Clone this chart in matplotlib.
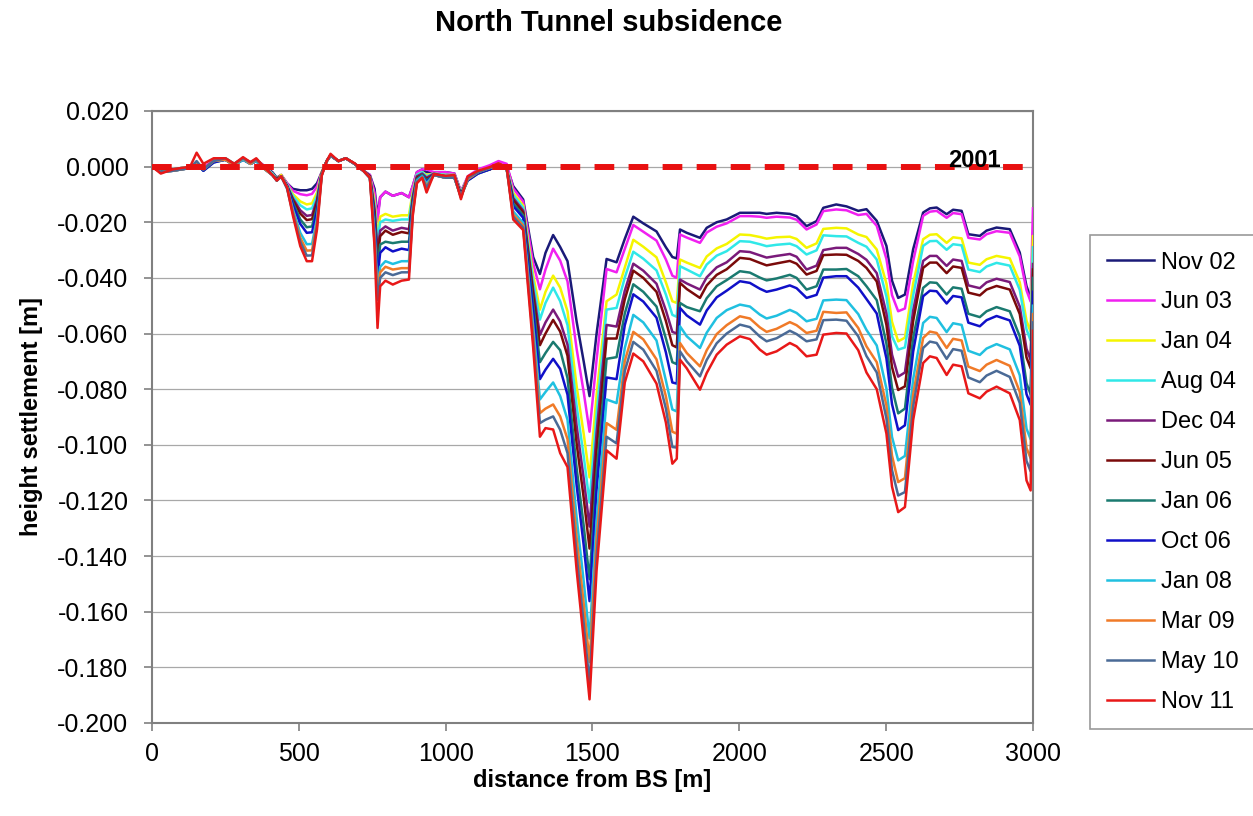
import matplotlib
matplotlib.use('Agg')
import matplotlib.pyplot as plt

plt.rcParams['font.family'] = ['Liberation Sans', 'DejaVu Sans']
plt.rcParams['axes.unicode_minus'] = False

# distance from BS [m]
dist = [0, 30, 70, 130, 152, 175, 210, 250, 280, 310,
        335, 355, 385, 410, 425, 440, 460, 480, 505, 527,
        545, 562, 578, 595, 608, 635, 660, 690, 720, 742,
        758, 768, 777, 795, 820, 850, 875, 888, 902, 920,
        935, 960, 1000, 1030, 1052, 1075, 1110, 1150, 1180, 1208,
        1230, 1264, 1298, 1321, 1340, 1366, 1390, 1415, 1446, 1470,
        1490, 1514, 1548, 1582, 1610, 1639, 1673, 1718, 1750, 1772,
        1787, 1798, 1821, 1866, 1889, 1923, 1957, 2002, 2036, 2070,
        2093, 2127, 2172, 2195, 2229, 2263, 2286, 2330, 2365, 2405,
        2433, 2468, 2501, 2520, 2541, 2564, 2592, 2626, 2649, 2672,
        2706, 2728, 2757, 2780, 2819, 2842, 2876, 2921, 2955, 2978,
        2992, 3000]

nov02 = [0, -0.001, -0.001, 0, 0.001, -0.0005, 0.002, 0.0025, 0.001, 0.003, 0.0015, 0.0025, 0, -0.002, -0.004, -0.003,
         -0.006, -0.008, -0.0085, -0.0085, -0.008, -0.006,
         -0.002, 0.002, 0.004, 0.002, 0.003, 0.001, -0.0015, -0.003,
         -0.008, -0.018, -0.011, -0.009, -0.0105, -0.0095, -0.011, -0.007,
         -0.002, -0.001, -0.002, -0.002, -0.002, -0.0025, -0.009, -0.004, -0.0015, 0, 0.001, 0,
         -0.007, -0.0118, -0.0325, -0.0386, -0.031, -0.0246, -0.0289, -0.034, -0.0557, -0.070,
         -0.0825, -0.060, -0.0332, -0.0344, -0.026, -0.018, -0.0204, -0.0233, -0.029, -0.0325,
         -0.033, -0.0226, -0.0238, -0.0256, -0.022, -0.020, -0.019, -0.0166, -0.0166, -0.0166,
         -0.017, -0.0166, -0.017, -0.0178, -0.0214, -0.0196, -0.0148, -0.0136, -0.0143, -0.0159,
         -0.0153, -0.0195, -0.0285, -0.041, -0.0472, -0.046, -0.0297, -0.0165, -0.015, -0.0147,
         -0.0171, -0.0155, -0.0159, -0.0243, -0.0249, -0.023, -0.0219, -0.0225, -0.0309, -0.043,
         -0.047, -0.040]

jun03 = [0, -0.001, -0.001, 0, 0.001, -0.0005, 0.0025, 0.003, 0.001, 0.003, 0.0015, 0.0025, 0, -0.0025, -0.0045, -0.003,
         -0.006, -0.0087, -0.0099, -0.0103, -0.0098, -0.0072,
         -0.002, 0.002, 0.004, 0.002, 0.003, 0.001, -0.0015, -0.003,
         -0.0095, -0.0197, -0.011, -0.009, -0.0105, -0.0095, -0.011, -0.007,
         -0.002, -0.001, -0.001, -0.002, -0.002, -0.0025, -0.009, -0.0035, -0.001, 0.0005, 0.002, 0.001,
         -0.0078, -0.0126, -0.0348, -0.0441, -0.037, -0.0295, -0.0338, -0.0413, -0.0655, -0.081,
         -0.0953, -0.0694, -0.0368, -0.038, -0.0296, -0.021, -0.0234, -0.0266, -0.0334, -0.0392,
         -0.040, -0.0244, -0.0255, -0.0274, -0.0237, -0.0216, -0.0204, -0.0178, -0.0178, -0.018,
         -0.0184, -0.018, -0.0183, -0.0191, -0.0226, -0.0208, -0.016, -0.0154, -0.0157, -0.0174,
         -0.017, -0.0213, -0.0332, -0.0462, -0.052, -0.051, -0.034, -0.0177, -0.0162, -0.0159,
         -0.0184, -0.0167, -0.0171, -0.0256, -0.0262, -0.0243, -0.0232, -0.0238, -0.0323, -0.0445,
         -0.0485, -0.015]

jan04 = [0, -0.001, -0.001, 0, 0.001, -0.001, 0.002, 0.003, 0.001, 0.003, 0.0015, 0.0025, -0.0005, -0.0025, -0.0045, -0.003,
         -0.0065, -0.0099, -0.0125, -0.0136, -0.0132, -0.0093,
         -0.002, 0.002, 0.004, 0.002, 0.003, 0.001, -0.0015, -0.0035,
         -0.0122, -0.025, -0.018, -0.017, -0.018, -0.0175, -0.0175, -0.009,
         -0.003, -0.002, -0.003, -0.0025, -0.003, -0.003, -0.0095, -0.004, -0.0015, -0.0005, 0.001, -0.0005,
         -0.0094, -0.014, -0.039, -0.0514, -0.045, -0.0392, -0.0435, -0.052, -0.0789, -0.096,
         -0.1117, -0.0821, -0.0484, -0.046, -0.0363, -0.0263, -0.0288, -0.0326, -0.0416, -0.0484,
         -0.049, -0.0334, -0.0345, -0.0364, -0.0323, -0.0294, -0.0278, -0.0244, -0.0246, -0.0253,
         -0.0259, -0.0254, -0.0252, -0.026, -0.0292, -0.0276, -0.0224, -0.022, -0.0222, -0.0244,
         -0.0253, -0.0298, -0.042, -0.0558, -0.0628, -0.0615, -0.042, -0.0261, -0.0245, -0.0243,
         -0.0274, -0.0254, -0.0258, -0.0345, -0.0353, -0.0333, -0.0321, -0.033, -0.0416, -0.0554,
         -0.0594, -0.025]

aug04 = [0, -0.0015, -0.001, 0, 0.001, -0.001, 0.002, 0.003, 0.001, 0.003, 0.0015, 0.0025, -0.0005, -0.0025, -0.0045, -0.0035,
         -0.0065, -0.0106, -0.0139, -0.0154, -0.015, -0.0105,
         -0.0025, 0.002, 0.004, 0.002, 0.003, 0.001, -0.0015, -0.0035,
         -0.0137, -0.027, -0.020, -0.019, -0.0195, -0.019, -0.019, -0.010,
         -0.003, -0.002, -0.0035, -0.0025, -0.003, -0.003, -0.0095, -0.004, -0.0015, -0.0005, 0.001, -0.0005,
         -0.0102, -0.0148, -0.0413, -0.055, -0.049, -0.0435, -0.0484, -0.057, -0.086, -0.104,
         -0.1208, -0.0889, -0.0514, -0.0508, -0.0399, -0.0306, -0.0331, -0.0373, -0.046, -0.0533,
         -0.054, -0.0358, -0.037, -0.0394, -0.0352, -0.032, -0.0304, -0.0268, -0.027, -0.0279,
         -0.0286, -0.0281, -0.0277, -0.0286, -0.0316, -0.0301, -0.0247, -0.025, -0.0251, -0.0274,
         -0.0288, -0.0334, -0.0467, -0.061, -0.0658, -0.065, -0.0463, -0.0285, -0.0268, -0.0267,
         -0.0299, -0.0279, -0.0283, -0.037, -0.0379, -0.0359, -0.0346, -0.0356, -0.0443, -0.0585,
         -0.0625, -0.029]

dec04 = [0, -0.0015, -0.001, -0.0005, 0.001, -0.001, 0.002, 0.0025, 0.0005, 0.003, 0.001, 0.002, -0.0005, -0.003, -0.0045, -0.0035,
         -0.007, -0.0115, -0.0157, -0.0177, -0.0174, -0.0119,
         -0.0025, 0.002, 0.004, 0.002, 0.003, 0.001, -0.0015, -0.0035,
         -0.0156, -0.031, -0.023, -0.0215, -0.023, -0.022, -0.0225, -0.011,
         -0.0035, -0.0025, -0.004, -0.0025, -0.0035, -0.0035, -0.010, -0.0045, -0.002, -0.001, 0.0005, -0.001,
         -0.0113, -0.0158, -0.0442, -0.0605, -0.056, -0.0514, -0.0557, -0.064, -0.0932, -0.112,
         -0.1294, -0.0957, -0.0569, -0.0575, -0.0446, -0.0349, -0.0374, -0.0421, -0.0517, -0.0594,
         -0.060, -0.0406, -0.042, -0.0442, -0.0398, -0.0362, -0.0344, -0.0304, -0.0307, -0.0319,
         -0.0327, -0.0321, -0.0314, -0.0324, -0.037, -0.0356, -0.030, -0.0292, -0.0292, -0.0314,
         -0.0335, -0.0383, -0.0528, -0.0676, -0.0755, -0.074, -0.0518, -0.0339, -0.0321, -0.0321,
         -0.0357, -0.0334, -0.0339, -0.0427, -0.0437, -0.0416, -0.0403, -0.0415, -0.0503, -0.0655,
         -0.0695, -0.035]

jun05 = [0, -0.0015, -0.001, -0.0005, 0.001, -0.001, 0.002, 0.0025, 0.0005, 0.003, 0.001, 0.002, -0.0005, -0.003, -0.0045, -0.0035,
         -0.007, -0.0121, -0.0169, -0.0192, -0.0189, -0.0129,
         -0.0025, 0.002, 0.004, 0.002, 0.003, 0.001, -0.0015, -0.0035,
         -0.0168, -0.033, -0.025, -0.023, -0.0245, -0.0235, -0.024, -0.012,
         -0.004, -0.003, -0.0045, -0.003, -0.0035, -0.0035, -0.010, -0.0045, -0.002, -0.001, 0.0005, -0.001,
         -0.012, -0.0164, -0.0462, -0.0642, -0.060, -0.0551, -0.0593, -0.068, -0.0995, -0.119,
         -0.1373, -0.1017, -0.0618, -0.0618, -0.0477, -0.0374, -0.040, -0.045, -0.0555, -0.0642,
         -0.065, -0.0418, -0.044, -0.0472, -0.0427, -0.0389, -0.0369, -0.0328, -0.0332, -0.0346,
         -0.0355, -0.0348, -0.0339, -0.0349, -0.0388, -0.0375, -0.0318, -0.0316, -0.0317, -0.0339,
         -0.0364, -0.0413, -0.0569, -0.0721, -0.0803, -0.079, -0.0555, -0.0364, -0.0345, -0.0345,
         -0.0383, -0.0359, -0.0364, -0.0453, -0.0463, -0.0442, -0.0429, -0.0442, -0.053, -0.0686,
         -0.0725, -0.037]

jan06 = [0, -0.0015, -0.0015, -0.0005, 0.001, -0.0015, 0.0015, 0.0025, 0.0005, 0.0025, 0.001, 0.002, -0.001, -0.003, -0.005, -0.0035,
         -0.007, -0.013, -0.019, -0.0218, -0.0215, -0.0146,
         -0.0025, 0.002, 0.004, 0.002, 0.003, 0.001, -0.0015, -0.004,
         -0.0189, -0.037, -0.028, -0.027, -0.0275, -0.027, -0.027, -0.013,
         -0.0045, -0.003, -0.005, -0.003, -0.004, -0.004, -0.0105, -0.005, -0.0025, -0.001, 0.0005, -0.001,
         -0.0132, -0.0175, -0.0494, -0.0703, -0.067, -0.063, -0.066, -0.076, -0.1084, -0.129,
         -0.1483, -0.1102, -0.0691, -0.0685, -0.0528, -0.0423, -0.045, -0.0503, -0.0618, -0.0703,
         -0.071, -0.049, -0.0505, -0.052, -0.0473, -0.043, -0.0408, -0.0376, -0.0381, -0.0399,
         -0.0409, -0.0402, -0.0389, -0.040, -0.0442, -0.043, -0.037, -0.037, -0.0368, -0.0394,
         -0.043, -0.048, -0.0636, -0.0795, -0.0887, -0.087, -0.0616, -0.0436, -0.0416, -0.0418,
         -0.046, -0.0434, -0.0439, -0.0529, -0.0541, -0.052, -0.0505, -0.052, -0.061, -0.0779,
         -0.0818, -0.040]

oct06 = [0, -0.002, -0.0015, -0.0005, 0.001, -0.0015, 0.0015, 0.0025, 0.0005, 0.0025, 0.001, 0.002, -0.001, -0.003, -0.005, -0.0035,
         -0.007, -0.0138, -0.0206, -0.0238, -0.0236, -0.0159,
         -0.003, 0.002, 0.004, 0.002, 0.003, 0.001, -0.0015, -0.004,
         -0.0206, -0.040, -0.031, -0.029, -0.0305, -0.0295, -0.030, -0.014,
         -0.005, -0.0035, -0.0055, -0.003, -0.004, -0.004, -0.0105, -0.005, -0.0025, -0.001, 0.0005, -0.001,
         -0.0142, -0.0184, -0.052, -0.0764, -0.073, -0.0691, -0.0727, -0.082, -0.1146, -0.136,
         -0.1562, -0.1161, -0.0758, -0.0764, -0.057, -0.0459, -0.0485, -0.0543, -0.0668, -0.0776,
         -0.078, -0.0508, -0.0535, -0.0568, -0.0517, -0.047, -0.0446, -0.0412, -0.0418, -0.0439,
         -0.045, -0.0442, -0.0427, -0.0437, -0.0472, -0.0461, -0.0399, -0.0394, -0.0394, -0.0435,
         -0.0476, -0.0528, -0.069, -0.0854, -0.0947, -0.093, -0.0665, -0.0466, -0.0446, -0.0448,
         -0.0492, -0.0465, -0.047, -0.0561, -0.0574, -0.0552, -0.0537, -0.0553, -0.0644, -0.0818,
         -0.0856, -0.045]

jan08 = [0, -0.002, -0.0015, -0.0005, 0.0015, -0.001, 0.002, 0.0025, 0.0005, 0.0025, 0.001, 0.002, -0.001, -0.003, -0.005, -0.0035,
         -0.0075, -0.0154, -0.0238, -0.0279, -0.0278, -0.0185,
         -0.003, 0.002, 0.004, 0.002, 0.003, 0.001, -0.0015, -0.004,
         -0.024, -0.044, -0.036, -0.034, -0.035, -0.034, -0.034, -0.015,
         -0.005, -0.0035, -0.006, -0.003, -0.004, -0.004, -0.011, -0.0045, -0.002, -0.0005, 0.0005, -0.001,
         -0.0161, -0.0202, -0.0572, -0.0837, -0.081, -0.0776, -0.0825, -0.091, -0.1262, -0.149,
         -0.1696, -0.1272, -0.0837, -0.085, -0.0652, -0.0533, -0.056, -0.0625, -0.0769, -0.0873,
         -0.088, -0.0574, -0.061, -0.0652, -0.0597, -0.0544, -0.0516, -0.0496, -0.0503, -0.0532,
         -0.0546, -0.0536, -0.0515, -0.0526, -0.0556, -0.0547, -0.0481, -0.0478, -0.048, -0.053,
         -0.0587, -0.0643, -0.0798, -0.0972, -0.1056, -0.104, -0.0764, -0.0562, -0.054, -0.0544,
         -0.0595, -0.0563, -0.0569, -0.0662, -0.0677, -0.0654, -0.0638, -0.0657, -0.075, -0.0942,
         -0.098, -0.050]

mar09 = [0, -0.002, -0.0015, -0.0005, 0.0015, -0.001, 0.002, 0.0025, 0.0005, 0.003, 0.001, 0.0025, -0.001, -0.003, -0.005, -0.0035,
         -0.0075, -0.0162, -0.0256, -0.0302, -0.0301, -0.020,
         -0.003, 0.002, 0.004, 0.002, 0.003, 0.001, -0.0015, -0.004,
         -0.0259, -0.046, -0.038, -0.036, -0.037, -0.0365, -0.0365, -0.016,
         -0.0055, -0.004, -0.007, -0.003, -0.004, -0.004, -0.011, -0.0045, -0.002, -0.0005, 0.0005, -0.001,
         -0.0172, -0.0212, -0.0601, -0.0886, -0.087, -0.0855, -0.0898, -0.098, -0.1334, -0.157,
         -0.1781, -0.134, -0.0922, -0.0946, -0.0699, -0.0594, -0.0621, -0.0693, -0.0826, -0.0953,
         -0.096, -0.0634, -0.067, -0.0718, -0.066, -0.0602, -0.057, -0.0538, -0.0546, -0.0578,
         -0.0594, -0.0583, -0.0559, -0.057, -0.0598, -0.059, -0.0522, -0.0526, -0.0524, -0.058,
         -0.0646, -0.0703, -0.0859, -0.1039, -0.1134, -0.112, -0.0819, -0.0616, -0.0593, -0.0598,
         -0.0652, -0.0619, -0.0625, -0.0719, -0.0735, -0.0712, -0.0695, -0.0716, -0.081, -0.1012,
         -0.1048, -0.053]

may10 = [0, -0.002, -0.0015, -0.0005, 0.002, -0.001, 0.002, 0.003, 0.001, 0.003, 0.0015, 0.0025, -0.0005, -0.003, -0.005, -0.0035,
         -0.008, -0.0169, -0.027, -0.032, -0.0319, -0.0212,
         -0.003, 0.002, 0.004, 0.002, 0.003, 0.001, -0.0015, -0.004,
         -0.0273, -0.048, -0.040, -0.038, -0.039, -0.038, -0.038, -0.017,
         -0.0055, -0.004, -0.0075, -0.003, -0.004, -0.004, -0.011, -0.004, -0.002, -0.0005, 0.001, -0.0005,
         -0.018, -0.022, -0.0624, -0.0922, -0.091, -0.0898, -0.0946, -0.103, -0.1396, -0.164,
         -0.186, -0.1399, -0.0971, -0.0995, -0.0735, -0.063, -0.0658, -0.0734, -0.087, -0.1008,
         -0.101, -0.0664, -0.070, -0.0754, -0.0695, -0.0635, -0.060, -0.0568, -0.0577, -0.0611,
         -0.0628, -0.0617, -0.059, -0.0602, -0.0628, -0.0621, -0.0552, -0.055, -0.0554, -0.061,
         -0.0681, -0.074, -0.0906, -0.1091, -0.1182, -0.117, -0.0862, -0.0652, -0.0629, -0.0634,
         -0.0691, -0.0656, -0.0662, -0.0758, -0.0775, -0.0751, -0.0734, -0.0756, -0.085, -0.1058,
         -0.1095, -0.056]

nov11 = [0, -0.0025, -0.001, 0, 0.005, 0.001, 0.003, 0.003, 0.001, 0.0034, 0.0016, 0.003, -0.0005, -0.003, -0.005, -0.0035,
         -0.0075, -0.0177, -0.0286, -0.034, -0.034, -0.0225,
         -0.0033, 0.002, 0.0046, 0.002, 0.003, 0.0012, -0.0015, -0.004,
         -0.029, -0.058, -0.043, -0.041, -0.0424, -0.041, -0.0406, -0.0177,
         -0.006, -0.004, -0.0093, -0.0027, -0.0033, -0.003, -0.0117, -0.0035, -0.0015, -0.0002, 0.0012, -0.0002,
         -0.019, -0.0228, -0.065, -0.0971, -0.094, -0.0945, -0.103, -0.108, -0.145, -0.170,
         -0.1915, -0.145, -0.102, -0.105, -0.0776, -0.0672, -0.070, -0.078, -0.092, -0.1068,
         -0.105, -0.0694, -0.0725, -0.0802, -0.0742, -0.0676, -0.064, -0.061, -0.062, -0.0658,
         -0.0676, -0.0664, -0.0634, -0.0646, -0.0682, -0.0676, -0.0604, -0.0598, -0.060, -0.066,
         -0.074, -0.080, -0.096, -0.115, -0.1242, -0.1224, -0.0911, -0.0706, -0.0682, -0.0688,
         -0.0749, -0.0712, -0.0718, -0.0815, -0.0833, -0.0809, -0.0791, -0.0815, -0.0911, -0.1128,
         -0.1164, -0.059]

labels = ['Nov 02', 'Jun 03', 'Jan 04', 'Aug 04', 'Dec 04', 'Jun 05',
          'Jan 06', 'Oct 06', 'Jan 08', 'Mar 09', 'May 10', 'Nov 11']
series = [nov02, jun03, jan04, aug04, dec04, jun05,
          jan06, oct06, jan08, mar09, may10, nov11]
colors = ['#1a1a78', '#f020f0', '#f5f500', '#30e8e8', '#7a1a7a', '#7a0a0a',
          '#1a7a70', '#1010c8', '#20c0e0', '#f07a28', '#4a6a96', '#e81818']

baseline = [0.0, 0.0]  # 2001 reference survey
baseline_x = [0, 3000]

fig = plt.figure(figsize=(12.53, 8.16), dpi=100)
ax = fig.add_axes([0.1213, 0.114, 0.7031, 0.750])

ax.plot(baseline_x, baseline, color='#e81010', linewidth=4.3,
        linestyle=(0, (3.3, 2.4)), zorder=5)
ax.text(2800, -0.0003, '2001', fontsize=17, fontweight='bold', ha='center', va='baseline', zorder=6)

for ys, lab, col in zip(series, labels, colors):
    ax.plot(dist, ys, color=col, linewidth=1.8, label=lab, zorder=3)

ax.set_xlim(0, 3000)
ax.set_ylim(-0.2, 0.02)
ax.set_xticks(range(0, 3001, 500))
ax.set_yticks([0.02 - 0.02 * i for i in range(12)])
ax.yaxis.set_major_formatter(matplotlib.ticker.FormatStrFormatter('%.3f'))
ax.grid(axis='y', color='#a8a8a8', linewidth=0.9)
ax.set_axisbelow(True)
for s in ax.spines.values():
    s.set_color('#808080')
    s.set_linewidth(1.5)
ax.tick_params(axis='both', labelsize=18, color='#808080', length=6, width=1.2)
ax.tick_params(axis='y', pad=11)
ax.tick_params(axis='x', pad=8)

ax.set_xlabel('distance from BS [m]', fontsize=17, fontweight='bold', labelpad=2)
ax.set_ylabel('height settlement [m]', fontsize=17, fontweight='bold', labelpad=10)
fig.text(0.486, 0.972, 'North Tunnel subsidence', fontsize=21, fontweight='bold',
         ha='center', va='center')

leg = fig.legend(loc='upper left', bbox_to_anchor=(0.870, 0.712), fontsize=17,
                 frameon=True, fancybox=False, edgecolor='#808080', handlelength=2.0,
                 handletextpad=0.3, labelspacing=0.76, borderpad=0.7, borderaxespad=0)
leg.get_frame().set_linewidth(1.2)

fig.savefig('out.png', dpi=100)
